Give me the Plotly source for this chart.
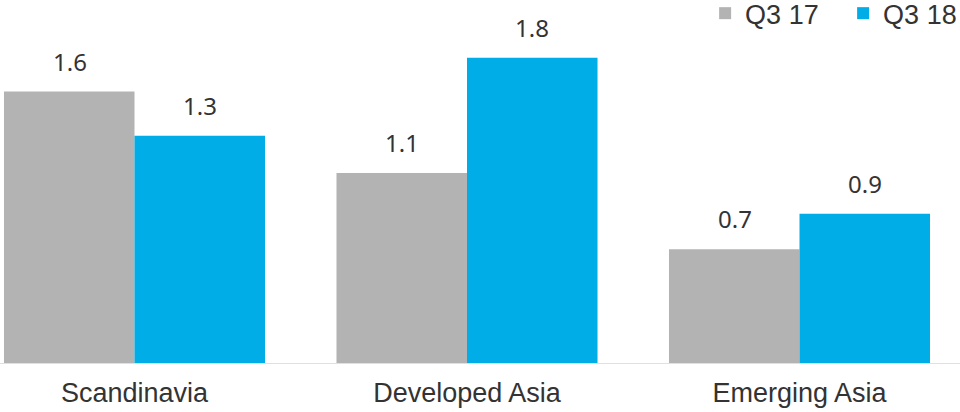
import plotly.graph_objects as go

categories = ["Scandinavia", "Developed Asia", "Emerging Asia"]
q3_17 = [1.60, 1.12, 0.67]
q3_18 = [1.34, 1.80, 0.88]
series_names = ["Q3 17", "Q3 18"]
colors = ["#B3B3B3", "#00ADE6"]

fig = go.Figure()
for name, vals, col in zip(series_names, [q3_17, q3_18], colors):
    fig.add_trace(go.Bar(
        x=categories, y=vals, name=name, marker_color=col,
        marker_line_width=0, hoverinfo="skip",
    ))

# value labels above bars
half = 65
for vals, shift in [(q3_17, -half), (q3_18, half)]:
    for c, v in zip(categories, vals):
        fig.add_annotation(
            x=c, y=v, xref="x", yref="y", text=f"{v:.1f}",
            showarrow=False, xshift=shift, yanchor="bottom", yshift=12,
            font=dict(family="Noto Sans", size=24, color="#333333"),
        )

fig.update_layout(
    width=960, height=412,
    margin=dict(l=0, r=0, t=0, b=49, autoexpand=False),
    paper_bgcolor="white", plot_bgcolor="white",
    barmode="group", bargap=0.215, bargroupgap=0,
    showlegend=True,
    legend=dict(
        orientation="h",
        x=1.022, xanchor="right", y=1.03, yanchor="top",
        entrywidth=93,
        font=dict(family="Liberation Sans", size=27, color="#333333"),
        bgcolor="rgba(0,0,0,0)",
    ),
    xaxis=dict(
        range=[-0.4045, 2.4827], showgrid=False, zeroline=False,
        showline=True, linecolor="#E0E0E0", linewidth=1,
        tickfont=dict(family="Liberation Sans", size=27, color="#333333"),
        ticks="", ticklabelstandoff=6,
    ),
    yaxis=dict(range=[0, 2.140], visible=False, showgrid=False, zeroline=False),
)

fig.write_html("out.html")
